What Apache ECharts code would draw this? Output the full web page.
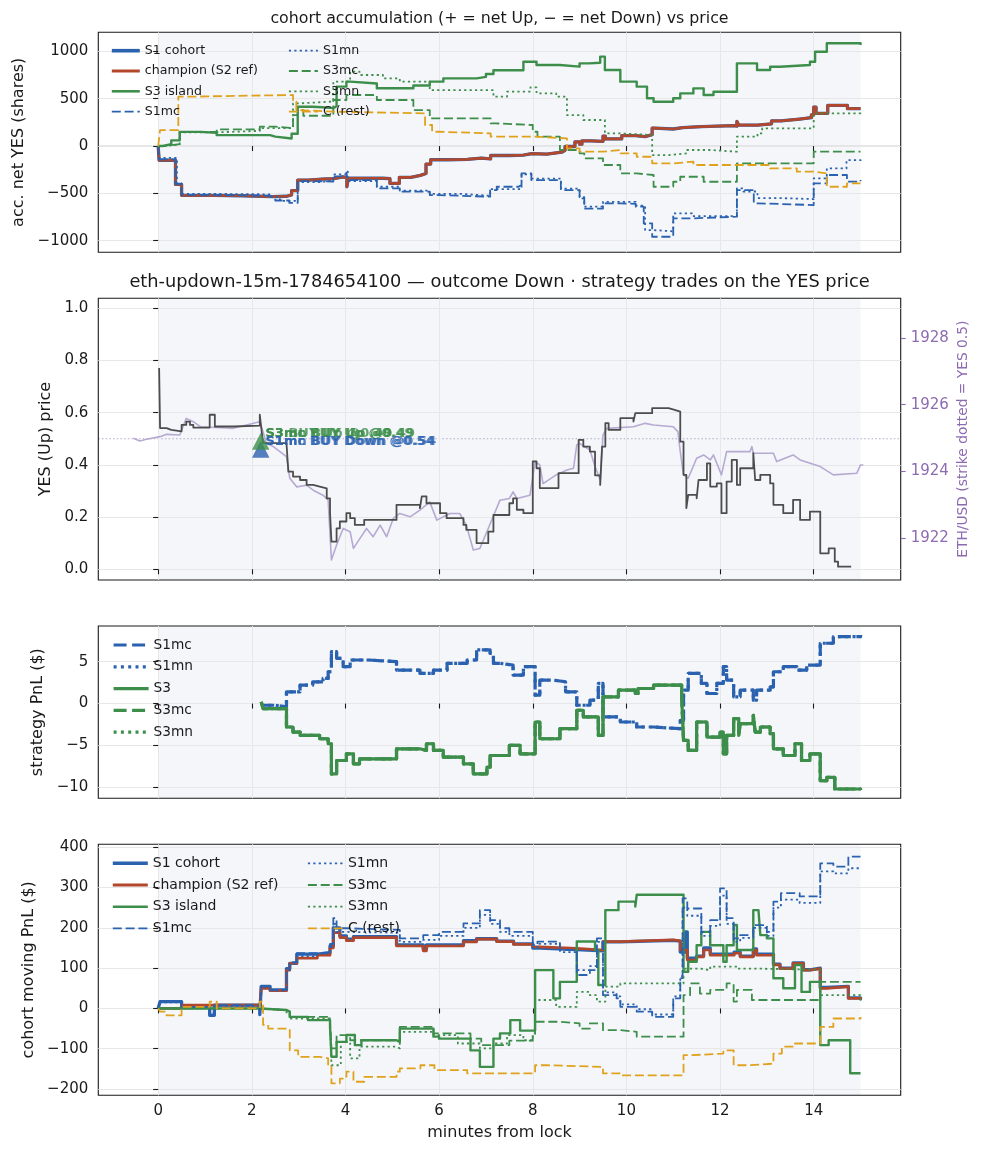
<!DOCTYPE html>
<html>
<head>
<meta charset="utf-8">
<title>cohort accumulation vs price</title>
<script src="https://cdn.jsdelivr.net/npm/echarts@6.0.0/dist/echarts.min.js"></script>
<style>
  html, body { margin: 0; padding: 0; background: #fff; }
  #main { width: 983px; height: 1156px; }
</style>
</head>
<body>
<div id="main"></div>
<script>
// ---- data: [minutes from lock, value], step-post ----

// panel 1: accumulated net YES shares
var s1CohortAcc = [[0,0],[0.02,-150],[0.37,-405],[0.5,-520],[1.2,-525],[1.8,-535],[2.45,-530],[2.75,-515],[2.85,-470],[2.98,-360],[3.2,-350],[3.5,-345],[3.75,-325],[3.95,-335],[4.03,-430],[4.06,-340],[4.8,-345],[4.95,-395],[5.15,-330],[5.4,-310],[5.6,-290],[5.72,-190],[5.82,-145],[6.2,-140],[6.6,-128],[6.9,-135],[7.1,-100],[7.5,-95],[7.8,-80],[7.98,-60],[8.0,-85],[8.3,-65],[8.62,-45],[8.69,-5],[8.9,45],[9.0,20],[9.05,55],[9.25,50],[9.5,105],[9.55,75],[9.9,110],[10.2,100],[10.4,120],[10.55,190],[10.6,180],[11.0,195],[11.2,205],[11.6,215],[12.3,210],[12.36,260],[12.4,220],[12.8,235],[13.1,265],[13.3,285],[13.7,300],[13.95,330],[14.0,410],[14.05,345],[14.3,430],[14.72,395],[15.0,390]]
var champAcc = [[0,0],[0.02,-150],[0.37,-405],[0.5,-520],[1.2,-525],[1.8,-535],[2.45,-530],[2.75,-515],[2.85,-470],[2.98,-360],[3.2,-350],[3.5,-345],[3.75,-325],[3.95,-335],[4.03,-430],[4.06,-340],[4.8,-345],[4.95,-395],[5.15,-330],[5.4,-310],[5.6,-290],[5.72,-190],[5.82,-145],[6.2,-140],[6.6,-128],[6.9,-135],[7.1,-100],[7.5,-95],[7.8,-80],[7.98,-60],[8.0,-85],[8.3,-65],[8.62,-45],[8.69,-5],[8.9,45],[9.0,20],[9.05,55],[9.25,50],[9.5,105],[9.55,75],[9.9,110],[10.2,100],[10.4,120],[10.55,190],[10.6,180],[11.0,195],[11.2,205],[11.6,215],[12.3,210],[12.36,260],[12.4,220],[12.8,235],[13.1,265],[13.3,285],[13.7,300],[13.95,330],[14.0,410],[14.05,345],[14.3,430],[14.72,395],[15.0,390]]
var s3IslandAcc = [[0,0],[0.1,20],[0.28,60],[0.46,150],[0.9,140],[1.25,115],[2.39,100],[2.5,80],[2.85,130],[2.98,415],[3.3,410],[3.5,400],[3.74,420],[3.81,627],[4.02,680],[4.1,660],[4.67,610],[5.45,640],[5.8,680],[6.09,715],[6.8,730],[7.0,760],[7.16,800],[7.8,890],[8.08,855],[8.58,838],[9.0,873],[9.2,880],[9.44,944],[9.54,803],[9.87,680],[10.22,627],[10.44,504],[10.58,468],[11.0,504],[11.15,556],[11.43,609],[11.65,539],[11.86,574],[12.36,873],[12.79,803],[13.07,838],[13.28,855],[13.92,890],[14.03,996],[14.28,1085],[15.0,1067]]
var s1mcAcc = [[0,0],[0.02,-140],[0.37,-400],[0.5,-515],[1.0,-525],[2.4,-545],[2.5,-575],[2.8,-600],[2.98,-370],[3.3,-375],[3.74,-320],[4.02,-280],[4.05,-360],[4.67,-447],[5.16,-482],[5.8,-518],[6.0,-535],[7.09,-465],[7.23,-430],[7.7,-410],[7.76,-289],[7.97,-359],[8.6,-465],[9.0,-553],[9.1,-660],[9.5,-605],[9.87,-610],[10.2,-640],[10.37,-817],[10.55,-958],[11.0,-764],[11.4,-746],[12.36,-465],[12.72,-605],[12.8,-623],[14.0,-394],[14.28,-306],[14.71,-375],[15.0,-359]]
var s1mnAcc = [[0,0],[0.02,-125],[0.4,-395],[0.5,-505],[1.0,-510],[2.4,-540],[2.6,-580],[2.98,-380],[3.5,-360],[3.74,-300],[4.0,-270],[4.05,-370],[4.67,-430],[5.16,-470],[5.8,-505],[6.5,-525],[7.09,-455],[7.76,-300],[7.97,-345],[8.6,-450],[9.0,-540],[9.1,-640],[9.5,-590],[10.2,-630],[10.4,-887],[10.55,-900],[11.0,-711],[11.4,-740],[12.36,-447],[12.5,-480],[12.8,-550],[13.3,-560],[14.0,-342],[14.28,-236],[14.7,-148],[15.0,-165]]
var s3mcAcc = [[0,0],[0.1,20],[0.46,150],[1.25,176],[2.17,204],[2.5,190],[2.88,327],[2.98,380],[3.1,320],[3.74,486],[4.02,539],[4.67,486],[5.45,380],[5.8,292],[7.1,240],[7.2,222],[8.0,151],[8.1,99],[8.58,-42],[9.0,-77],[9.1,-130],[9.5,-200],[9.87,-289],[10.22,-306],[10.58,-430],[11.0,-377],[11.15,-324],[11.65,-377],[12.36,-183],[14.0,-60],[15.0,-60]]
var s3mnAcc = [[0,0],[0.1,15],[0.46,145],[1.25,160],[2.17,190],[2.88,450],[3.0,470],[3.74,680],[4.1,785],[4.3,750],[4.8,715],[5.16,680],[5.8,590],[6.9,590],[7.16,521],[7.45,574],[7.95,620],[8.08,556],[8.5,521],[8.73,327],[9.08,275],[9.54,134],[9.87,116],[10.55,-95],[10.9,-77],[11.3,-42],[11.8,-60],[12.36,99],[12.8,134],[12.9,187],[14.0,345],[15.0,310]]
var cRestAcc = [[0,0],[0.04,169],[0.43,521],[0.6,539],[2.88,470],[2.95,380],[3.0,363],[3.74,345],[5.7,222],[5.85,151],[6.0,134],[7.1,99],[8.0,99],[8.08,81],[8.73,-25],[9.0,-60],[9.5,-42],[9.87,-77],[10.22,-113],[10.55,-183],[11.0,-165],[11.43,-200],[13.07,-236],[13.64,-271],[14.0,-289],[14.28,-430],[14.71,-394],[15.0,-394]]

// panel 2: YES price and ETH/USD
var yesPrice = [[0.02,0.771],[0.04,0.541],[0.18,0.534],[0.28,0.528],[0.5,0.553],[0.6,0.566],[0.68,0.553],[0.75,0.543],[1.1,0.592],[1.21,0.547],[1.6,0.55],[2.17,0.592],[2.21,0.528],[2.24,0.483],[2.74,0.477],[2.78,0.374],[2.88,0.355],[3.03,0.342],[3.17,0.323],[3.31,0.317],[3.45,0.31],[3.6,0.272],[3.67,0.215],[3.7,0.106],[3.81,0.157],[3.88,0.183],[4.02,0.215],[4.1,0.196],[4.2,0.17],[4.4,0.189],[5.09,0.247],[5.59,0.234],[5.63,0.279],[5.73,0.253],[6.02,0.215],[6.16,0.196],[6.52,0.17],[6.58,0.151],[6.8,0.1],[7.05,0.144],[7.16,0.208],[7.5,0.253],[7.58,0.272],[7.66,0.228],[7.8,0.215],[8.0,0.413],[8.08,0.387],[8.15,0.311],[8.55,0.368],[8.98,0.496],[9.08,0.47],[9.22,0.451],[9.33,0.36],[9.44,0.323],[9.48,0.47],[9.55,0.56],[9.62,0.534],[9.87,0.579],[10.15,0.566],[10.19,0.598],[10.55,0.617],[10.9,0.611],[11.03,0.604],[11.15,0.489],[11.22,0.362],[11.28,0.234],[11.32,0.285],[11.5,0.272],[11.54,0.342],[11.72,0.406],[11.79,0.317],[11.93,0.329],[12.03,0.215],[12.14,0.336],[12.25,0.419],[12.36,0.323],[12.43,0.387],[12.71,0.445],[12.75,0.342],[12.86,0.362],[13.07,0.329],[13.14,0.247],[13.35,0.215],[13.56,0.266],[13.71,0.189],[13.92,0.221],[14.14,0.061],[14.32,0.08],[14.45,0.029],[14.52,0.01],[14.8,0.01]]
var ethUsd = [[-0.53,1924.99],[-0.39,1924.91],[-0.25,1924.96],[0.04,1925.04],[0.18,1925.11],[0.46,1925.09],[0.6,1925.59],[0.75,1925.49],[0.9,1925.34],[1.46,1925.3],[1.6,1925.29],[2.17,1925.49],[2.24,1925.18],[2.31,1924.84],[2.46,1924.74],[2.74,1924.44],[2.81,1923.79],[2.96,1923.53],[3.17,1923.58],[3.31,1923.43],[3.52,1923.28],[3.63,1923.13],[3.7,1921.33],[3.81,1921.78],[3.95,1922.28],[4.1,1922.18],[4.17,1921.68],[4.31,1921.98],[4.45,1922.28],[4.59,1922.03],[4.74,1922.38],[4.88,1922.03],[5.02,1922.58],[5.16,1922.73],[5.38,1922.63],[5.59,1922.83],[5.8,1923.08],[5.95,1922.53],[6.23,1922.73],[6.44,1922.73],[6.58,1922.38],[6.73,1921.63],[6.87,1921.68],[7.02,1922.18],[7.3,1923.13],[7.5,1923.18],[7.58,1923.38],[7.66,1923.18],[7.94,1923.28],[8.05,1924.29],[8.15,1924.19],[8.22,1923.63],[8.5,1923.89],[8.73,1924.04],[8.87,1924.09],[8.94,1924.79],[9.0,1924.84],[9.22,1924.64],[9.33,1924.14],[9.44,1923.74],[9.5,1925.09],[9.58,1925.29],[10.15,1925.34],[10.4,1925.44],[10.58,1925.39],[11.0,1925.34],[11.1,1925.19],[11.15,1924.59],[11.22,1923.89],[11.32,1923.79],[11.5,1924.39],[11.65,1924.49],[11.79,1924.34],[11.86,1924.49],[12.03,1923.89],[12.14,1924.59],[12.64,1924.59],[12.68,1924.74],[12.71,1924.54],[13.14,1924.54],[13.21,1924.29],[13.56,1924.49],[13.71,1924.34],[14.14,1924.14],[14.42,1923.89],[14.92,1923.94],[15.0,1924.19],[15.06,1924.19]]
var strikeYes = 0.5
var tradeS1 = [[2.19, 0.46]]   // BUY Down @0.54
var tradeS3 = [[2.19, 0.49]]   // BUY Up @0.49

// panel 3: strategy PnL
var s1mcStrat = [[2.2,-0.2],[2.5,-0.4],[2.74,1.4],[3.03,2.2],[3.3,2.6],[3.52,3.0],[3.63,3.8],[3.7,6.2],[3.81,5.4],[3.95,4.4],[4.1,5.2],[4.5,5.0],[5.09,4.0],[5.59,3.6],[5.88,4.0],[6.17,4.8],[6.6,5.2],[6.8,6.4],[7.09,6.0],[7.16,4.8],[7.3,4.6],[7.58,3.4],[7.8,4.4],[8.05,1.0],[8.15,2.8],[8.44,2.6],[8.7,1.4],[8.94,-0.2],[9.22,0.4],[9.4,2.4],[9.5,-1.6],[9.87,-2.2],[10.22,-2.8],[10.58,-3.0],[11.15,-2.0],[11.22,1.6],[11.32,3.6],[11.6,2.4],[11.72,1.2],[11.93,2.4],[12.07,4.4],[12.14,2.8],[12.29,0.8],[12.43,1.6],[12.71,0.4],[12.78,1.6],[13.07,2.0],[13.14,3.8],[13.35,4.4],[13.64,4.0],[13.85,4.6],[14.14,7.2],[14.42,8.0],[15.0,8.2]]
var s1mnStrat = s1mcStrat
var s3Strat = [[2.2,0.2],[2.24,-0.6],[2.74,-2.8],[2.88,-3.4],[3.03,-3.8],[3.45,-4.2],[3.63,-4.8],[3.7,-8.4],[3.81,-6.8],[4.02,-6.0],[4.17,-7.2],[4.3,-6.6],[5.09,-5.4],[5.59,-5.6],[5.73,-4.8],[5.88,-5.6],[6.09,-6.4],[6.52,-7.2],[6.73,-8.4],[7.02,-7.6],[7.09,-6.2],[7.5,-5.0],[7.73,-6.0],[8.05,-2.2],[8.15,-4.2],[8.58,-3.0],[8.94,-0.8],[9.08,-1.6],[9.4,-3.8],[9.5,0.8],[9.83,1.6],[10.19,1.2],[10.25,1.8],[10.58,2.2],[11.18,0.8],[11.22,-4.4],[11.32,-5.6],[11.5,-2.2],[11.72,-4.0],[12.0,-3.4],[12.07,-6.0],[12.14,-3.8],[12.29,-1.8],[12.4,-3.8],[12.43,-2.4],[12.71,-1.4],[12.75,-3.4],[12.86,-2.8],[13.07,-3.6],[13.14,-5.4],[13.35,-6.2],[13.6,-4.8],[13.74,-6.8],[13.92,-6.0],[14.14,-9.2],[14.28,-8.8],[14.45,-10.2],[15.0,-10.3]]
var s3mcStrat = s3Strat
var s3mnStrat = s3Strat

// panel 4: cohort moving PnL
var s1CohortPnl = [[0,0],[0.04,17],[0.5,4],[1.1,-17],[1.2,8],[2.17,-15],[2.2,55],[2.39,46],[2.74,99],[2.81,112],[2.96,135],[3.4,138],[3.67,155],[3.74,200],[3.88,180],[4.02,172],[4.17,178],[5.02,178],[5.09,158],[5.66,148],[5.73,158],[6.52,168],[6.8,173],[7.23,167],[7.59,160],[8.0,150],[8.15,146],[8.94,143],[9.5,165],[9.87,169],[11.0,167],[11.15,140],[11.25,190],[11.3,125],[11.5,130],[11.65,150],[11.79,135],[12.3,140],[12.43,130],[12.71,148],[12.78,135],[13.14,110],[13.28,100],[13.56,113],[13.78,96],[13.92,100],[14.14,52],[14.28,55],[14.74,26],[15.0,22]]
var champPnl = [[0,0],[0.5,8],[2.17,-4],[2.2,50],[2.39,44],[2.74,95],[2.81,112],[2.96,125],[3.4,132],[3.67,150],[3.74,188],[3.88,176],[4.02,168],[4.17,176],[5.02,176],[5.09,155],[5.66,143],[5.73,155],[6.52,165],[6.8,172],[7.23,166],[7.59,159],[8.0,153],[8.15,149],[8.94,145],[9.5,166],[9.87,170],[11.0,168],[11.15,145],[11.3,120],[11.5,128],[11.65,145],[11.79,132],[12.3,137],[12.43,128],[12.71,145],[12.78,132],[13.14,108],[13.28,99],[13.56,112],[13.78,95],[13.92,99],[14.14,50],[14.28,54],[14.74,25],[15.0,21]]
var s3IslandPnl = [[0,0],[2.17,-4],[2.74,-8],[2.81,-21],[3.2,-29],[3.67,-46],[3.7,-120],[3.81,-83],[4.02,-66],[4.2,-91],[4.34,-79],[5.09,-83],[5.16,-50],[5.88,-70],[6.0,-75],[6.67,-104],[6.87,-145],[7.16,-75],[7.3,-62],[7.52,-29],[7.73,-55],[8.05,95],[8.44,25],[8.58,66],[8.94,166],[9.33,145],[9.4,58],[9.55,244],[9.83,265],[10.19,253],[10.22,282],[11.22,91],[11.32,116],[11.5,157],[11.6,190],[11.79,157],[12.07,116],[12.14,157],[12.29,207],[12.36,145],[12.71,244],[12.82,248],[12.86,182],[13.0,174],[13.14,75],[13.35,50],[13.6,108],[13.74,41],[13.92,66],[14.14,-91],[14.32,-79],[14.78,-161],[15.0,-161]]
var s1mcPnl = [[0,0],[0.04,17],[0.5,4],[1.1,-17],[1.2,8],[2.17,-15],[2.2,55],[2.39,46],[2.74,99],[2.81,115],[2.96,137],[3.4,140],[3.67,160],[3.74,224],[3.81,199],[4.02,195],[5.16,174],[5.66,182],[6.0,190],[6.52,211],[6.87,244],[7.09,219],[7.3,199],[7.5,190],[8.0,157],[8.1,166],[8.58,145],[8.94,83],[9.22,95],[9.37,174],[9.5,33],[9.79,25],[9.87,4],[10.22,-8],[10.55,-21],[11.0,25],[11.15,75],[11.2,273],[11.3,248],[11.6,190],[11.79,219],[12.0,298],[12.14,224],[12.29,174],[12.43,182],[12.71,207],[13.0,190],[13.14,265],[13.3,286],[13.7,278],[14.14,360],[14.42,352],[14.74,377],[15.0,377]]
var s1mnPnl = [[0,0],[0.04,15],[0.5,3],[1.1,-15],[1.2,6],[2.17,-12],[2.2,52],[2.39,44],[2.74,95],[2.81,110],[2.96,130],[3.4,136],[3.67,152],[3.74,210],[3.81,190],[4.02,188],[5.16,165],[5.66,170],[6.0,180],[6.52,200],[6.87,232],[7.09,210],[7.3,190],[7.5,180],[8.0,150],[8.1,160],[8.58,140],[8.94,95],[9.22,105],[9.37,165],[9.5,40],[9.79,30],[9.87,10],[10.22,-2],[10.55,-15],[11.0,30],[11.15,80],[11.2,250],[11.3,230],[11.6,180],[11.79,205],[12.0,280],[12.14,210],[12.29,165],[12.43,175],[12.71,200],[13.0,180],[13.14,250],[13.3,270],[13.7,262],[14.14,340],[14.42,335],[14.74,348],[15.0,350]]
var s3mcPnl = [[0,0],[2.17,-4],[2.74,-8],[2.81,-21],[3.67,-30],[3.7,-99],[3.81,-66],[4.1,-79],[5.16,-46],[5.88,-62],[6.67,-75],[6.9,-91],[7.5,-80],[8.0,-62],[8.05,-33],[8.58,-37],[9.0,-50],[9.22,-37],[9.5,-54],[9.87,-58],[10.22,-70],[11.22,33],[11.36,62],[11.57,37],[11.79,46],[12.14,62],[12.29,17],[12.36,46],[12.68,21],[14.14,66],[15.0,66]]
var s3mnPnl = [[0,0],[2.17,-4],[2.74,-10],[2.81,-25],[3.67,-33],[3.7,-141],[3.9,-83],[4.1,-124],[4.3,-95],[5.09,-99],[5.16,-58],[5.88,-66],[6.4,-87],[6.87,-99],[7.16,-87],[7.45,-66],[7.8,-79],[8.0,-66],[8.05,21],[8.5,4],[8.94,41],[9.22,33],[9.37,17],[9.55,54],[9.87,62],[11.22,99],[11.57,95],[11.79,104],[12.36,99],[12.7,96],[14.14,33],[15.0,17]]
var cRestPnl = [[0,0],[0.04,-8],[0.18,-17],[0.5,4],[1.1,17],[1.25,0],[2.17,17],[2.24,-41],[2.35,-50],[2.81,-104],[2.99,-120],[3.45,-124],[3.63,-141],[3.7,-186],[3.88,-174],[4.02,-157],[4.17,-182],[4.4,-170],[5.09,-157],[5.16,-149],[5.6,-141],[5.9,-153],[6.6,-161],[8.05,-141],[8.3,-145],[9.5,-161],[9.87,-166],[11.22,-116],[11.4,-112],[12.07,-104],[12.29,-141],[12.6,-137],[13.14,-112],[13.32,-95],[13.6,-87],[14.14,-46],[14.42,-25],[15.0,-21]]

// axis ticks
var xTicks = [0, 2, 4, 6, 8, 10, 12, 14]
var accTicks = [-1000, -500, 0, 500, 1000]
var priceTicks = [0, 0.2, 0.4, 0.6, 0.8, 1.0]
var ethTicks = [1922, 1924, 1926, 1928]
var stratTicks = [-10, -5, 0, 5]
var pnlTicks = [-200, -100, 0, 100, 200, 300, 400]
var lockWindow = [0, 15]

;((w) => {
  var FONT = 'DejaVu Sans'
  var INK = '#1a1a1a'
  var BLUE = '#2a62b0'
  var RED = '#b2472b'
  var GREEN = '#3d8e4b'
  var ORANGE = '#e0a21c'
  var PURPLE = '#8d6bb0'
  var DASH = [9, 3.8]
  var DOT = [2.2, 3.2]
  var DASH3 = [13, 5.5]
  var DOT3 = [3, 4.3]

  var chart = echarts.init(document.getElementById('main'), null, { renderer: 'canvas' })

  var fmtNum = v => (v < 0 ? '\u2212' : '') + Math.abs(v)

  var gridBox = (top, height) => ({
    left: 98.3, top: top, width: 802.4, height: height,
    show: true, borderColor: INK, borderWidth: 1.1, backgroundColor: 'transparent',
    containLabel: false, outerBoundsMode: 'none'
  })

  var xAx = (gi, labels) => ({
    type: 'value', gridIndex: gi, min: -1.279, max: 15.858,
    axisLine: { show: false },
    axisTick: { show: true, customValues: xTicks, length: 5, lineStyle: { color: INK, width: 1.1 } },
    axisLabel: { show: labels, customValues: xTicks, margin: 8, fontFamily: FONT, fontSize: 15, color: INK, formatter: fmtNum },
    splitLine: { show: true, lineStyle: { color: '#e7e7ea', width: 1 } },
    name: labels ? 'minutes from lock' : '', nameLocation: 'middle', nameGap: 30, nameMoveOverlap: false,
    nameTextStyle: { fontFamily: FONT, fontSize: 16, color: INK }
  })

  var yAx = (gi, min, max, ticks, name, gap, fmt) => ({
    type: 'value', gridIndex: gi, min: min, max: max, position: 'left',
    axisLine: { show: false },
    axisTick: { show: true, customValues: ticks, length: 5, lineStyle: { color: INK, width: 1.1 } },
    axisLabel: { customValues: ticks, margin: 10, fontFamily: FONT, fontSize: 15, color: INK, formatter: fmt || fmtNum },
    splitLine: { show: true, lineStyle: { color: '#e7e7ea', width: 1 } },
    name: name, nameLocation: 'middle', nameRotate: 90, nameGap: gap, nameMoveOverlap: false,
    nameTextStyle: { fontFamily: FONT, fontSize: 16, color: INK }
  })

  // 锁定窗口底色 + 零线 (drawn under the grid lines)
  var shade = (xi, yi, level, dotted) => ({
    type: 'custom', xAxisIndex: xi, yAxisIndex: yi, silent: true, z: -1, animation: false,
    data: [lockWindow],
    renderItem: (params, api) => {
      var cs = params.coordSys
      var a = api.coord([api.value(0), level])
      var b = api.coord([api.value(1), level])
      return {
        type: 'group',
        children: [
          { type: 'rect', shape: { x: a[0], y: cs.y, width: b[0] - a[0], height: cs.height }, style: { fill: '#f4f6fa' } },
          { type: 'line', shape: { x1: cs.x, y1: a[1], x2: cs.x + cs.width, y2: a[1] },
            style: dotted ? { stroke: '#b3aac6', lineWidth: 1, lineDash: [1.5, 2.2] } : { stroke: '#d0d0d0', lineWidth: 1.1 } }
        ]
      }
    }
  })

  var line = (name, data, xi, yi, color, width, dash, step) => ({
    name: name, type: 'line', xAxisIndex: xi, yAxisIndex: yi, data: data,
    step: step === false ? false : 'end', symbol: 'none', silent: true, animation: false,
    lineStyle: { color: color, width: width, type: dash || 'solid', cap: 'butt', join: 'round' },
    itemStyle: { color: color }
  })

  var cohortSeries = (gi, d) => [
    line('S1 cohort', d[0], gi, gi === 0 ? 0 : 4, BLUE, 3.3),
    line('champion (S2 ref)', d[1], gi, gi === 0 ? 0 : 4, RED, 2.7),
    line('S3 island', d[2], gi, gi === 0 ? 0 : 4, GREEN, 2.4),
    line('S1mc', d[3], gi, gi === 0 ? 0 : 4, BLUE, 1.8, DASH),
    line('S1mn', d[4], gi, gi === 0 ? 0 : 4, BLUE, 1.8, DOT),
    line('S3mc', d[5], gi, gi === 0 ? 0 : 4, GREEN, 1.8, DASH),
    line('S3mn', d[6], gi, gi === 0 ? 0 : 4, GREEN, 1.8, DOT),
    line('C (rest)', d[7], gi, gi === 0 ? 0 : 4, ORANGE, 1.8, DASH)
  ]

  var trade = (data, color, text, z, onlyText) => ({
    type: 'scatter', xAxisIndex: 1, yAxisIndex: 1, data: data, z: z, silent: true, animation: false,
    symbol: 'triangle', symbolSize: [17.5, 17],
    itemStyle: { color: onlyText ? 'transparent' : color },
    label: {
      show: !!onlyText, formatter: text, position: 'right', distance: -4, offset: [0, -8],
      fontFamily: FONT, fontSize: 13, fontWeight: 'bold', color: color
    }
  })

  var legendBox = (left, top, gap, fontSize, itemWidth, lh, items) => ({
    show: true, orient: 'vertical', left: left, top: top, padding: 0,
    itemGap: gap, itemWidth: itemWidth, itemHeight: lh, selectedMode: false,
    itemStyle: { opacity: 0 },
    textStyle: { fontFamily: FONT, fontSize: fontSize, color: INK, lineHeight: lh },
    data: items
  })
  var li = (name, width, type) => ({ name: name, lineStyle: { width: width, type: type || 'solid' } })

  var legCol1 = [li('S1 cohort', 3.6), li('champion (S2 ref)', 3), li('S3 island', 2.6), li('S1mc', 1.8, DASH)]
  var legCol2 = [li('S1mn', 1.8, DOT), li('S3mc', 1.8, DASH), li('S3mn', 1.8, DOT), li('C (rest)', 1.8, DASH)]
  var legStrat = [li('S1mc', 3.2, DASH3), li('S1mn', 3.2, DOT3), li('S3', 3.2), li('S3mc', 3.2, DASH3), li('S3mn', 3.2, DOT3)]

  var option = {
    animation: false,
    backgroundColor: '#ffffff',
    textStyle: { fontFamily: FONT },
    graphic: [
      { type: 'text', x: 499.5, y: 18.5, silent: true,
        style: { text: 'cohort accumulation (+ = net Up, \u2212 = net Down) vs price', fontFamily: FONT, fontSize: 15.8, fill: INK, align: 'center', verticalAlign: 'middle' } },
      { type: 'text', x: 499.5, y: 282, silent: true,
        style: { text: 'eth-updown-15m-1784654100 \u2014 outcome Down \u00b7 strategy trades on the YES price', fontFamily: FONT, fontSize: 17.8, fill: INK, align: 'center', verticalAlign: 'middle' } }
    ],
    legend: [
      legendBox(110, 43.7, 6.3, 12.6, 28, 14, legCol1),
      legendBox(288, 43.7, 6.3, 12.6, 29, 14, legCol2),
      legendBox(112, 637.5, 6.8, 13.7, 35, 15, legStrat),
      legendBox(111, 855.8, 6.7, 14, 35, 15, legCol1),
      legendBox(307, 855.8, 6.7, 14, 35, 15, legCol2)
    ],
    grid: [gridBox(32.3, 220), gridBox(298.3, 281.7), gridBox(626, 172.3), gridBox(844.3, 251)],
    xAxis: [xAx(0, false), xAx(1, false), xAx(2, false), xAx(3, true)],
    yAxis: [
      yAx(0, -1122, 1201, accTicks, 'acc. net YES (shares)', 71),
      yAx(1, -0.041, 1.038, priceTicks, 'YES (Up) price', 44, v => v.toFixed(1)),
      {
        type: 'value', gridIndex: 1, min: 1920.73, max: 1929.2, position: 'right',
        axisLine: { show: false },
        axisTick: { show: true, customValues: ethTicks, length: 5, lineStyle: { color: PURPLE, width: 1.1 } },
        axisLabel: { customValues: ethTicks, margin: 10, fontFamily: FONT, fontSize: 15, color: PURPLE, formatter: v => String(v) },
        splitLine: { show: false },
        name: 'ETH/USD (strike dotted = YES 0.5)', nameLocation: 'middle', nameRotate: 90, nameGap: 56, nameMoveOverlap: false,
        nameTextStyle: { fontFamily: FONT, fontSize: 13.8, color: PURPLE }
      },
      yAx(2, -11.31, 9.26, stratTicks, 'strategy PnL ($)', 52),
      yAx(3, -215.6, 407.4, pnlTicks, 'cohort moving PnL ($)', 61)
    ],
    series: [
      shade(0, 0, 0, false),
      shade(1, 1, strikeYes, true),
      shade(2, 3, 0, false),
      shade(3, 4, 0, false)
    ]
      .concat(cohortSeries(0, [s1CohortAcc, champAcc, s3IslandAcc, s1mcAcc, s1mnAcc, s3mcAcc, s3mnAcc, cRestAcc]))
      .concat([
        line('ETH/USD', ethUsd, 1, 2, '#b7a9d2', 1.6, null, false),
        line('YES price', yesPrice, 1, 1, '#4d4d4d', 1.8),
        trade(tradeS1, BLUE, '', 3, false),
        trade(tradeS3, GREEN, '', 4, false),
        trade(tradeS3, GREEN, 'S3 BUY Up @0.49', 5, true),
        trade(tradeS3, GREEN, 'S3mc BUY Up @0.49', 5, true),
        trade(tradeS3, GREEN, 'S3mn BUY Up @0.49', 5, true),
        trade(tradeS1, BLUE, 'S1mc BUY Down @0.54', 6, true),
        trade(tradeS1, BLUE, 'S1mn BUY Down @0.54', 6, true)
      ])
      .concat([
        line('S1mc', s1mcStrat, 2, 3, BLUE, 3.2, DASH3),
        line('S1mn', s1mnStrat, 2, 3, BLUE, 3.2, DOT3),
        line('S3', s3Strat, 2, 3, GREEN, 3.2),
        line('S3mc', s3mcStrat, 2, 3, GREEN, 3.2, DASH3),
        line('S3mn', s3mnStrat, 2, 3, GREEN, 3.2, DOT3)
      ])
      .concat(cohortSeries(3, [s1CohortPnl, champPnl, s3IslandPnl, s1mcPnl, s1mnPnl, s3mcPnl, s3mnPnl, cRestPnl]))
  }

  chart.setOption(option)
})(window)
</script>
</body>
</html>
